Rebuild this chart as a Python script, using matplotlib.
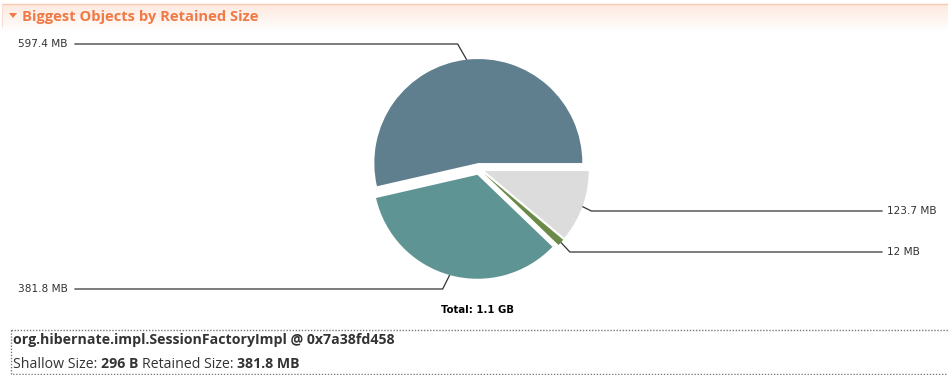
import numpy as np
import matplotlib
matplotlib.use("Agg")
import matplotlib.pyplot as plt
from matplotlib.patches import Rectangle, Polygon
from matplotlib.colors import LinearSegmentedColormap

# ---- data ----
labels = ["597.4 MB", "381.8 MB", "12 MB", "123.7 MB"]
values = [597.4, 381.8, 12.0, 123.7]
colors = ["#5f7f8f", "#5f9494", "#6b8a48", "#dcdcdc"]
title = "Biggest Objects by Retained Size"
total_text = "Total: 1.1 GB"
object_name = "org.hibernate.impl.SessionFactoryImpl @ 0x7a38fd458"
shallow_size = "296 B"
retained_size = "381.8 MB"

W, H = 948, 375
fig = plt.figure(figsize=(W / 100, H / 100), dpi=100)
fig.patch.set_facecolor("white")

# overlay axes in pixel coordinates
ov = fig.add_axes([0, 0, 1, 1])
ov.set_xlim(0, W)
ov.set_ylim(H, 0)
ov.axis("off")

# ---- header ----
grad = np.linspace(0, 1, 64).reshape(-1, 1)
cmap = LinearSegmentedColormap.from_list("hdr", ["#fde9df", "#ffffff"])
ov.imshow(grad, cmap=cmap, extent=[2, W, 32, 4], aspect="auto", zorder=0)
ov.set_xlim(0, W)
ov.set_ylim(H, 0)
ov.plot([2, W], [4, 4], color="#f6c9b0", lw=1.0, zorder=1)
ov.plot([2.5, 2.5], [4, 26], color="#f8ddd0", lw=0.8, zorder=1)
ov.add_patch(Polygon([[9, 13], [17, 13], [13, 18]], closed=True,
                     facecolor="#f07a45", edgecolor="none", zorder=2))
hdr_font = ["Open Sans", "DejaVu Sans"]
ov.text(22, 16.5, title, fontsize=10.6, fontweight="bold", color="#f07a45",
        family=hdr_font, va="center", ha="left", zorder=3)

# ---- pie ----
cx, cy = 479, 169
box = 300
pax = fig.add_axes([(cx - box / 2) / W, (H - cy - box / 2) / H, box / W, box / H])
wedges, _ = pax.pie(values, colors=colors, startangle=0, counterclock=True,
                    explode=[0.06] * len(values), radius=1.04,
                    wedgeprops=dict(linewidth=0))
pax.set_xlim(-1.5, 1.5)
pax.set_ylim(-1.5, 1.5)
pax.set_aspect("equal")
pax.axis("off")

def to_px(x, y):
    disp = pax.transData.transform((x, y))
    return ov.transData.inverted().transform(disp)

label_side = ["left", "left", "right", "right"]
label_y = [44, 289, 252, 211]
for w, lab, side, ly in zip(wedges, labels, label_side, label_y):
    mid = np.deg2rad((w.theta1 + w.theta2) / 2)
    ex, ey = w.center[0] + w.r * np.cos(mid), w.center[1] + w.r * np.sin(mid)
    px, py = to_px(ex, ey)
    if side == "left":
        bx = px - 9 if py < cy else px - 7
        xs = [px, bx, 75]
        ov.text(68, ly, lab, fontsize=7.6, color="#333333", ha="right",
                va="center", family="DejaVu Sans")
    else:
        bx = px + 9
        xs = [px, bx, 882]
        ov.text(887, ly, lab, fontsize=7.6, color="#333333", ha="left",
                va="center", family="DejaVu Sans")
    ov.plot(xs, [py, ly, ly], color="#333333", lw=0.9, zorder=4)

ov.text(477, 310, total_text, fontsize=7.3, fontweight="bold", color="#000000",
        ha="center", va="center", family="DejaVu Sans")

# ---- details box ----
ov.add_patch(Rectangle((11, 330), W - 11 + 5, 44, fill=False,
                       edgecolor="#7a7a7a", lw=1.0, linestyle=(0, (1, 1.2))))
ov.text(13, 340, object_name, fontsize=10.2, fontweight="bold", color="#333333",
        family=hdr_font, va="center", ha="left")

renderer = fig.canvas.get_renderer()
x = 13
parts = [("Shallow Size:", "normal", 3.5), (shallow_size, "bold", 3.5),
         ("Retained Size:", "normal", 3.5), (retained_size, "bold", 0)]
for s, wt, gap in parts:
    t = ov.text(x, 364, s, fontsize=10.2, fontweight=wt, color="#333333",
                family=hdr_font, va="center", ha="left")
    bb = t.get_window_extent(renderer=renderer)
    x1 = ov.transData.inverted().transform((bb.x1, bb.y0))[0]
    x = x1 + gap

fig.savefig("out.png", dpi=100, facecolor="white")
